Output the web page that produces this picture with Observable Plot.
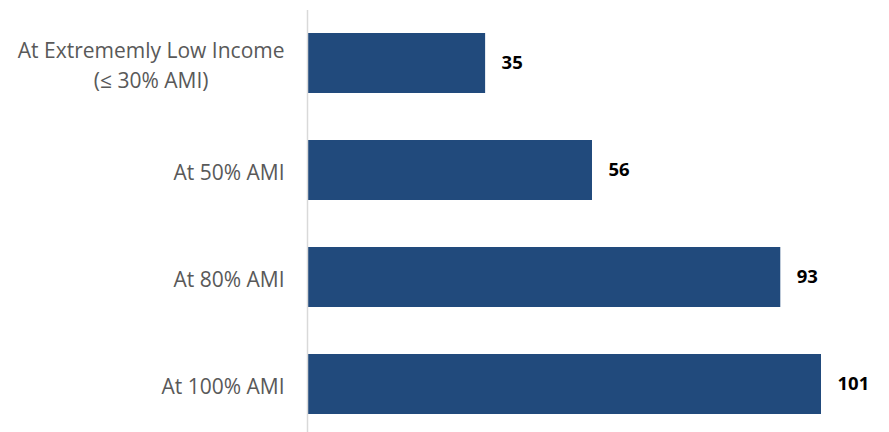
<!DOCTYPE html>
<html>
<head>
<meta charset="utf-8">
<script src="https://cdn.jsdelivr.net/npm/d3@7"></script>
<script src="https://cdn.jsdelivr.net/npm/@observablehq/plot@0.6"></script>
<style>
  body { margin: 0; background: #fff; }
  #chart svg { display: block; }
</style>
</head>
<body>
<div id="chart"></div>
<script>
const categories = ["At Extrememly Low Income\n(≤ 30% AMI)", "At 50% AMI", "At 80% AMI", "At 100% AMI"];
const values = [35, 56, 93, 101];

const data = categories.map((c, i) => ({category: c, value: values[i]}));

const labelFont = "21px 'Open Sans'";
const ctx = document.createElement("canvas").getContext("2d");
ctx.font = labelFont;
const blockWidth = s => Math.max(...s.split("\n").map(l => ctx.measureText(l).width));
const gap = 23;

const chart = Plot.plot({
  width: 889,
  height: 432,
  marginLeft: 307,
  marginRight: 68,
  marginTop: 16,
  marginBottom: 2,
  style: {fontFamily: "'Open Sans', sans-serif", background: "#fff"},
  x: {domain: [0, 101], axis: null},
  y: {domain: categories, axis: null, paddingInner: 0.44, paddingOuter: 0.15},
  marks: [
    Plot.barX(data, {x: "value", y: "category", fill: "#214a7c"}),
    Plot.ruleX([0], {stroke: "#d9d9d9", strokeWidth: 1.5, insetTop: -6, insetBottom: -2}),
    ...data.map(d => Plot.text([d], {x: 0, y: "category", text: "category", textAnchor: "middle",
      dx: -gap - blockWidth(d.category) / 2,
      fontSize: 21, fill: "#595959", lineHeight: 1.43})),
    Plot.text(data, {x: "value", y: "category", text: d => String(d.value), textAnchor: "start", dx: 16,
      fontSize: 18.5, fontWeight: "bold", fill: "#000"})
  ]
});
document.getElementById("chart").appendChild(chart);
</script>
</body>
</html>
